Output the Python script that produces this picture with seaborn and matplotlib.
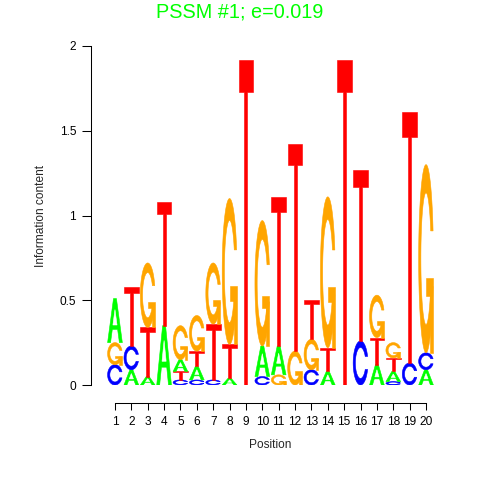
import numpy as np
import matplotlib
matplotlib.use("Agg")
import matplotlib.pyplot as plt
import seaborn as sns

# information content per letter (bits)
positions = list(range(1, 21))
A_ic = [0.26, 0.09, 0.05, 0.35, 0.07, 0.08, 0.00, 0.04, 0.00, 0.18,
        0.17, 0.00, 0.00, 0.08, 0.00, 0.00, 0.12, 0.06, 0.00, 0.09]
C_ic = [0.12, 0.14, 0.00, 0.00, 0.03, 0.03, 0.03, 0.00, 0.00, 0.05,
        0.00, 0.00, 0.09, 0.00, 0.00, 0.26, 0.00, 0.02, 0.13, 0.10]
G_ic = [0.13, 0.00, 0.38, 0.00, 0.20, 0.21, 0.36, 0.86, 0.00, 0.74,
        0.06, 0.20, 0.18, 0.89, 0.00, 0.00, 0.25, 0.09, 0.00, 1.11]
T_ic = [0.00, 0.35, 0.29, 0.73, 0.05, 0.09, 0.33, 0.20, 1.92, 0.00,
        0.88, 1.22, 0.23, 0.14, 1.92, 1.01, 0.16, 0.08, 1.48, 0.00]
y_ticks = [0, 0.5, 1, 1.5, 2]
y_ticklabels = ["0", "0.5", "1", "1.5", "2"]
title = "PSSM #1; e=0.019"

colors = {"A": "#00FF00", "C": "#0000FF", "G": "#FFA500", "T": "#FF0000"}


# letter outlines in the unit square (seqLogo style)
def c_ring():
    a1 = np.linspace(0.3 + np.pi / 2, np.pi, 100)
    a2 = np.linspace(np.pi, 1.5 * np.pi, 100)
    xl1, yl1 = 0.5 + 0.5 * np.sin(a1), 0.5 + 0.5 * np.cos(a1)
    xl2, yl2 = 0.5 + 0.5 * np.sin(a2), 0.5 + 0.5 * np.cos(a2)
    xl, yl = np.r_[xl1, xl2], np.r_[yl1, yl2]
    x, y = np.r_[xl, xl[::-1]], np.r_[yl, 1 - yl[::-1]]
    xi1, yi1 = 0.5 + 0.35 * np.sin(a1), 0.5 + 0.35 * np.cos(a1)
    keep = yi1 <= yl1.max()
    xi1, yi1 = xi1[keep], yi1[keep]
    yi1[0] = yl1.max()
    xi2, yi2 = 0.5 + 0.35 * np.sin(a2), 0.5 + 0.35 * np.cos(a2)
    xi, yi = np.r_[xi1, xi2], np.r_[yi1, yi2]
    x1, y1 = np.r_[xi, xi[::-1]], np.r_[yi, 1 - yi[::-1]]
    return [(np.r_[x, x1[::-1]], np.r_[y, y1[::-1]], None)], xl1.max()


def letter_shapes(ch):
    if ch == "A":
        return [(np.array([0, 4, 6, 10, 8, 6.8, 3.2, 2, 0]) / 10,
                 np.array([0, 10, 10, 0, 0, 3, 3, 0, 0]) / 10, None),
                (np.array([3.6, 5, 6.4, 3.6]) / 10,
                 np.array([4, 7.5, 4, 4]) / 10, "white")]
    if ch == "T":
        return [(np.array([0, 10, 10, 6, 6, 4, 4, 0]) / 10,
                 np.array([10, 10, 9, 9, 0, 0, 9, 9]) / 10, None)]
    ring, r1 = c_ring()
    if ch == "C":
        return ring
    h1 = 0.4
    bar = (np.array([r1, 0.5, 0.5, r1 - 0.2, r1 - 0.2, r1, r1]),
           np.array([h1, h1, h1 - 0.1, h1 - 0.1, 0, 0, h1]), None)
    return ring + [bar]


sns.set_style("ticks")
plt.rcParams["font.family"] = ["Liberation Sans", "DejaVu Sans"]

fig = plt.figure(figsize=(4.8, 4.8), dpi=100)
ax = fig.add_axes([98.6 / 480, 95 / 480, 343.8 / 480, 339 / 480])

wt = 0.9
ic = {"A": A_ic, "C": C_ic, "G": G_ic, "T": T_ic}
for i, p in enumerate(positions):
    col = sorted([(ic[ch][i], ch) for ch in "ACGT" if ic[ch][i] > 0])
    base = 0.0
    for h, ch in col:
        for sx, sy, fc in letter_shapes(ch):
            c = fc or colors[ch]
            ax.fill(p - wt / 2 + wt * sx, base + h * sy, color=c,
                    linewidth=0.4, edgecolor=c)
        base += h

ax.set_xlim(0, 21)
ax.set_ylim(0, 2)
ax.set_xticks(positions)
ax.set_xticklabels([str(p) for p in positions])
ax.set_yticks(y_ticks)
ax.set_yticklabels(y_ticklabels)

for s in ["top", "right"]:
    ax.spines[s].set_visible(False)
ax.spines["left"].set_position(("outward", 5.7))
ax.spines["bottom"].set_position(("outward", 13))
ax.spines["left"].set_bounds(0, 2)
ax.spines["bottom"].set_bounds(1, 20)
for s in ["left", "bottom"]:
    ax.spines[s].set_color("black")
    ax.spines[s].set_linewidth(0.75)
ax.tick_params(axis="y", length=6.5, width=0.75, pad=4, labelsize=8.6, colors="black")
ax.tick_params(axis="x", length=5, width=0.75, pad=4, labelsize=8.6, colors="black")

ax.set_xlabel("Position", fontsize=8.6)
ax.set_ylabel("Information content", fontsize=8.6)
ax.xaxis.set_label_coords(0.5, -0.16)
ax.yaxis.set_label_coords(-0.15, 0.5)
ax.patch.set_alpha(0)

fig.text(0.5, 1 - 12 / 480, title, ha="center", va="center",
         fontsize=14.3, color="#00FF00")

fig.savefig("out.png", dpi=100)
